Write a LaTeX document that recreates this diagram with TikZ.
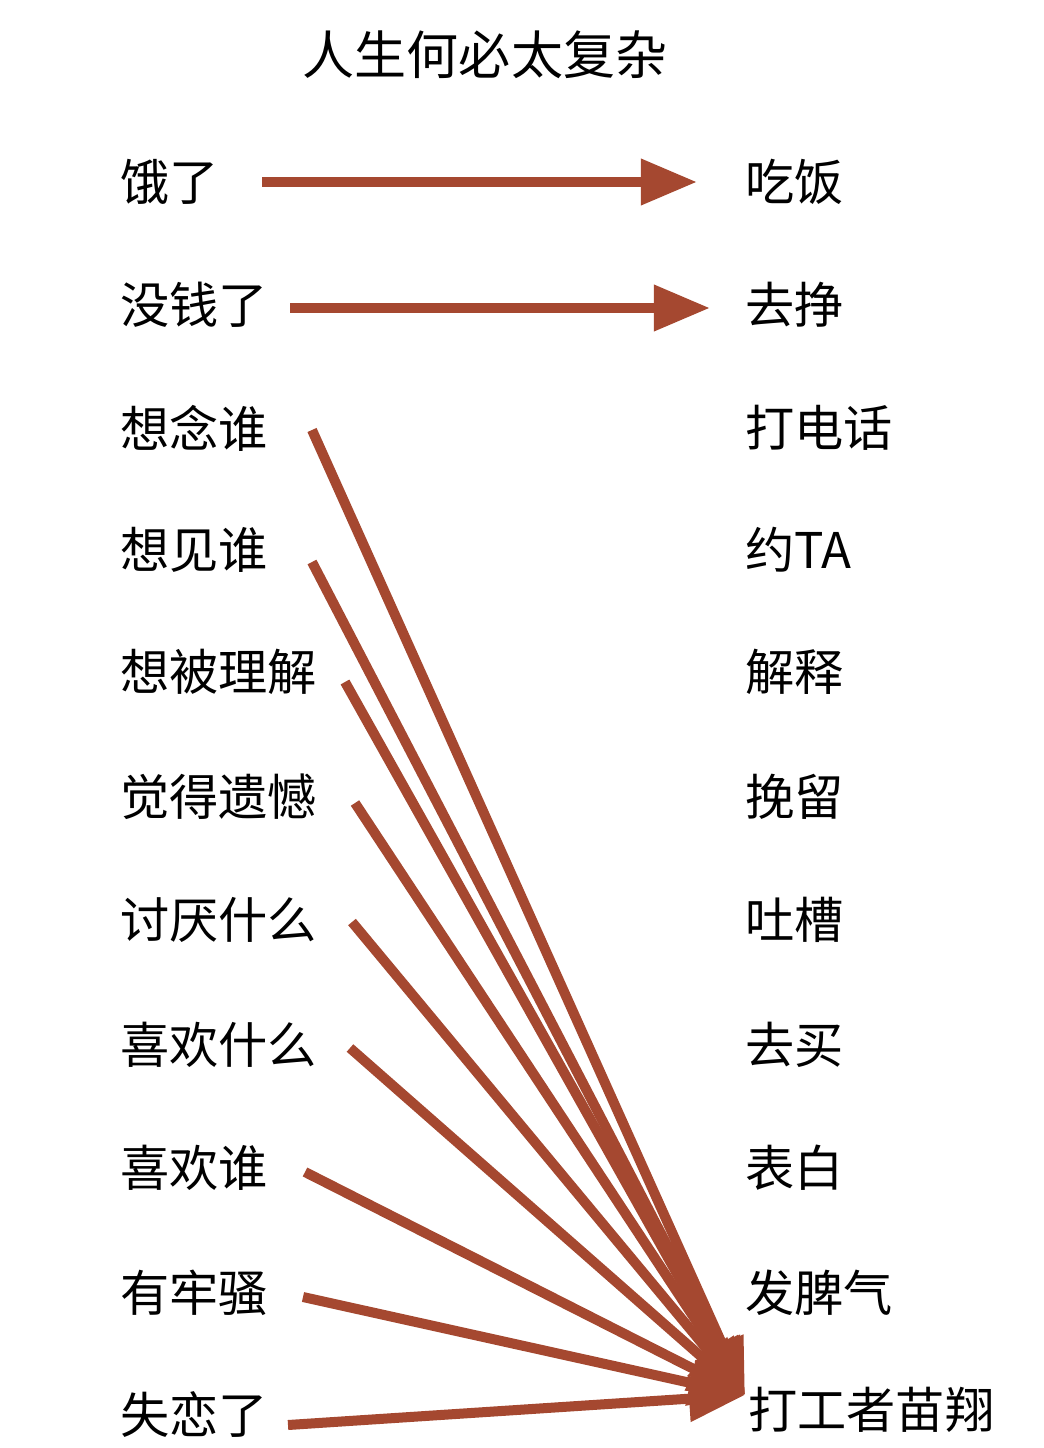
\documentclass[tikz,border=0pt]{standalone}
\usepackage{fontspec}
\setmainfont{Noto Sans CJK SC}
\usetikzlibrary{arrows.meta}
\definecolor{arrowred}{RGB}{165,72,48}

\begin{document}
\begin{tikzpicture}[
      x=0.025cm, y=-0.025cm,
      cause/.style={anchor=west, inner sep=0pt, font=\fontsize{35}{35}\selectfont},
      deed/.style={anchor=west, inner sep=0pt, font=\fontsize{35}{35}\selectfont},
      pointer/.style={draw=arrowred, line width=0.25cm, -{Triangle[length=1.4cm, width=1.1cm]}}]
      \useasboundingbox (0,0) rectangle (1044,1448);
      \node[font=\fontsize{37}{37}\selectfont] (title) at (485,55) {人生何必太复杂};
      \node[cause] (hungry) at (120,182) {饿了};
      \node[cause] (broke) at (120,305) {没钱了};
      \node[cause] (miss) at (120,428) {想念谁};
      \node[cause] (see) at (120,550) {想见谁};
      \node[cause] (understood) at (120,672) {想被理解};
      \node[cause] (regret) at (120,797) {觉得遗憾};
      \node[cause] (hate) at (120,920) {讨厌什么};
      \node[cause] (likething) at (120,1045) {喜欢什么};
      \node[cause] (likeone) at (120,1168) {喜欢谁};
      \node[cause] (grumble) at (120,1293) {有牢骚};
      \node[cause] (heartbreak) at (120,1415) {失恋了};
      \node[deed] (eat) at (745,182) {吃饭};
      \node[deed] (earn) at (745,305) {去挣};
      \node[deed] (call) at (745,428) {打电话};
      \node[deed] (date) at (745,550) {约TA};
      \node[deed] (explain) at (745,672) {解释};
      \node[deed] (stay) at (745,797) {挽留};
      \node[deed] (vent) at (745,920) {吐槽};
      \node[deed] (buy) at (745,1045) {去买};
      \node[deed] (confess) at (745,1168) {表白};
      \node[deed] (temper) at (745,1293) {发脾气};
      \node[deed] (worker) at (748,1410) {打工者苗翔};
      \coordinate (tip) at (745,1395);
      \coordinate (hungry-s) at (262,182);
      \coordinate (eat-e) at (697,182);
      \coordinate (broke-s) at (290,308);
      \coordinate (earn-e) at (710,308);
      \draw[pointer] (hungry-s) -- (eat-e);
      \draw[pointer] (broke-s) -- (earn-e);
      \foreach \who/\sx/\sy in {miss/312/430, see/312/562, understood/345/682, regret/355/803,
                                hate/352/922, likething/350/1048, likeone/305/1172,
                                grumble/303/1297, heartbreak/288/1425}
        {
        \coordinate (\who-s) at (\sx,\sy);
        \draw[pointer] (\who-s) -- (tip);
        }
\end{tikzpicture}
\end{document}
